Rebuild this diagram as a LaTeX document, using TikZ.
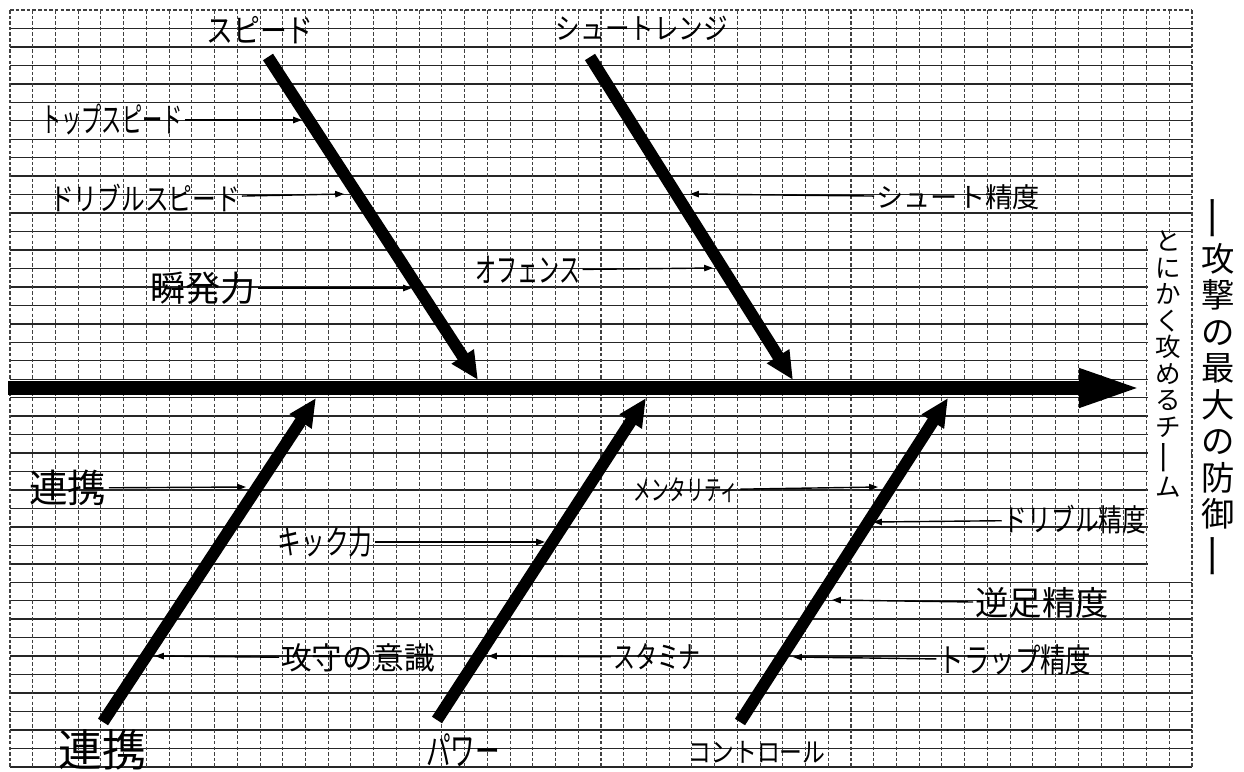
\documentclass[tikz,border=0pt]{standalone}
\usepackage{fontspec}
\newfontfamily\jp{Noto Sans CJK JP}
\usetikzlibrary{arrows.meta}
\newcommand{\tatebou}{\rotatebox[origin=c]{90}{\scalebox{1.4}[1]{ー}}}
\newcommand{\taller}[2]{\scalebox{1}[#1]{#2}}

\begin{document}
\begin{tikzpicture}[x=0.02cm, y=-0.02cm,
    gridh/.style={black!85, line width=0.8pt},
    gridv/.style={black!75, line width=0.6pt, dash pattern=on 2pt off 1.2pt},
    spine/.style={line width=8.5pt, -{Triangle[length=36pt,width=20pt]}},
    bone/.style={line width=6.8pt, -{Triangle[length=16pt,width=14pt]}},
    twig/.style={line width=0.8pt, -{Triangle[length=5pt,width=3.6pt]}},
    lbl/.style={font=\jp, inner sep=1pt}
]
    \useasboundingbox (0,0) rectangle (1244,771);
    \fill[white] (0,0) rectangle (1244,771);

    % grid paper
    \draw[gridv] (10,10) -- (1192,10);
    \foreach \i in {1,...,41}
        \draw[gridh] (10,{10+18.46*\i}) -- (1192,{10+18.46*\i});
    \foreach \j in {0,...,52}
        \draw[gridv] ({10+22.73*\j},10) -- ({10+22.73*\j},767);
    \fill[white] (1147.5,233) rectangle (1191,581);

    % spine and bones
    \coordinate (spS) at (8,388);
    \coordinate (spT) at (1142,388);
    \coordinate (spdS) at (268,57);
    \coordinate (spdT) at (478,380);
    \coordinate (shrS) at (590,57);
    \coordinate (shrT) at (793,380);
    \coordinate (renS) at (103,722);
    \coordinate (renT) at (316,398);
    \coordinate (pwrS) at (437,720);
    \coordinate (pwrT) at (646,398);
    \coordinate (ctlS) at (740,722);
    \coordinate (ctlT) at (948,398);

    \draw[spine] (spS) -- (spT);
    \draw[bone] (spdS) -- (spdT);
    \draw[bone] (shrS) -- (shrT);
    \draw[bone] (renS) -- (renT);
    \draw[bone] (pwrS) -- (pwrT);
    \draw[bone] (ctlS) -- (ctlT);

    % bone labels
    \node (spdlbl) [lbl, font=\jp\fontsize{15.3}{16}\selectfont] at (260,30) {\taller{1.2}{スピード}};
    \node (shrlbl) [lbl, font=\jp\fontsize{14}{15}\selectfont] at (642,28) {\taller{1.2}{シュートレンジ}};
    \node (renlbl) [lbl, font=\jp\fontsize{25}{26}\selectfont] at (102,750) {連携};
    \node (pwrlbl) [lbl, font=\jp\fontsize{14}{15}\selectfont] at (463,750) {\taller{1.6}{パワー}};
    \node (ctllbl) [lbl, font=\jp\fontsize{13}{14}\selectfont] at (757,752) {\taller{1.2}{コントロール}};

    % causes
    \node (tspd) [lbl, font=\jp\fontsize{11.5}{12}\selectfont] at (112,120) {\taller{1.7}{トップスピード}};
    \node (dspd) [lbl, font=\jp\fontsize{13.5}{14}\selectfont] at (145,198) {\taller{1.3}{ドリブルスピード}};
    \node (shnp) [lbl, font=\jp\fontsize{20}{21}\selectfont] at (203,288) {瞬発力};
    \node (ofe) [lbl, font=\jp\fontsize{12}{13}\selectfont] at (528,270) {\taller{1.6}{オフェンス}};
    \node (shac) [lbl, font=\jp\fontsize{15.5}{16}\selectfont] at (958,197) {シュート精度};
    \node (renc) [lbl, font=\jp\fontsize{22}{23}\selectfont] at (68,488) {連携};
    \node (kick) [lbl, font=\jp\fontsize{13.5}{14}\selectfont] at (325,542) {\taller{1.4}{キック力}};
    \node (kosy) [lbl, font=\jp\fontsize{17.5}{18}\selectfont] at (358,658) {攻守の意識};
    \node (ment) [lbl, font=\jp\fontsize{10}{11}\selectfont] at (686,490) {\taller{1.6}{メンタリティ}};
    \node (drac) [lbl, font=\jp\fontsize{13.5}{14}\selectfont] at (1075,520) {\taller{1.3}{ドリブル精度}};
    \node (gyak) [lbl, font=\jp\fontsize{19}{20}\selectfont] at (1042,603) {逆足精度};
    \node (stam) [lbl, font=\jp\fontsize{12.5}{13}\selectfont] at (657,657) {\taller{1.4}{スタミナ}};
    \node (trap) [lbl, font=\jp\fontsize{14.5}{15}\selectfont] at (1015,660) {\taller{1.3}{トラップ精度}};

    \coordinate (tspdE) at (302,120);
    \coordinate (dspdE) at (344,194);
    \coordinate (shnpE) at (412,288);
    \coordinate (ofeE) at (713,268);
    \coordinate (shacE) at (690,194);
    \coordinate (rencE) at (246,487);
    \coordinate (kickE) at (545,542);
    \coordinate (kosyE) at (155,656);
    \coordinate (mentE) at (878,487);
    \coordinate (dracE) at (873,522);
    \coordinate (gyakE) at (832,600);
    \coordinate (stamE) at (488,656);
    \coordinate (trapE) at (793,657);

    \draw[twig] (tspd) -- (tspdE);
    \draw[twig] (dspd) -- (dspdE);
    \draw[twig] (shnp) -- (shnpE);
    \draw[twig] (ofe) -- (ofeE);
    \draw[twig] (shac) -- (shacE);
    \draw[twig] (renc) -- (rencE);
    \draw[twig] (kick) -- (kickE);
    \draw[twig] (kosy) -- (kosyE);
    \draw[twig] (ment) -- (mentE);
    \draw[twig] (drac) -- (dracE);
    \draw[twig] (gyak) -- (gyakE);
    \draw[twig] (stam) -- (stamE);
    \draw[twig] (trap) -- (trapE);

    % effect, written top to bottom
    \node (team) [lbl, align=center, font=\jp\fontsize{14.5}{15.1}\selectfont] at (1168,364)
        {と\\に\\か\\く\\攻\\め\\る\\チ\\\tatebou\\ム};
    \node (motto) [lbl, align=center, font=\jp\fontsize{19}{20.8}\selectfont] at (1218,387)
        {\tatebou\\攻\\撃\\の\\最\\大\\の\\防\\御\\\tatebou};
\end{tikzpicture}
\end{document}
